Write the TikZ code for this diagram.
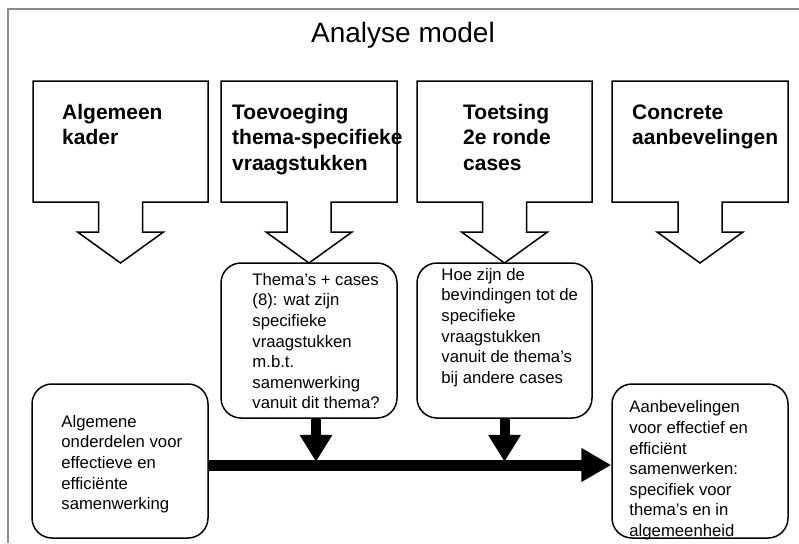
\documentclass[tikz,border=0pt]{standalone}
\usepackage{fontspec}
\setmainfont{Liberation Sans}
\usetikzlibrary{arrows.meta,calc}
\definecolor{framegray}{HTML}{8C8C8C}
\begin{document}
\begin{tikzpicture}[x=1pt,y=-1pt,
  boxline/.style={draw=black,line width=1.5pt,line join=miter},
  roundbox/.style={draw=black,line width=1.5pt,rounded corners=20pt,
    minimum width=176pt,minimum height=155pt,inner sep=0pt},
  headtext/.style={font=\fontsize{21}{25.5}\selectfont\bfseries,
    align=left,anchor=north west,inner sep=0pt},
  bodytext/.style={font=\fontsize{16.7}{20.6}\selectfont,
    align=left,anchor=north west,inner sep=0pt},
  flow/.style={line width=11pt,-{Triangle[length=30pt,width=32pt]}},
  feed/.style={line width=10pt,-{Triangle[length=27pt,width=31pt]}},
]
\useasboundingbox (0,0) rectangle (799,543);

% outer frame
\draw[framegray,line width=2pt] (8,543) -- (8,9.5) -- (799,9.5);

% title
\node[font=\fontsize{28}{32}\selectfont,anchor=base] (title) at (403,42) {Analyse model};

% down-arrow callouts: left, right, centre of the stem
\foreach \L/\R/\c in {33/208/120.5, 221/397/309, 417/592/504.5, 612/788/700}{
  \draw[boxline] (\L,81) -- (\R,81) -- (\R,202) -- (\c+22,202) -- (\c+22,232)
    -- (\c+43,232) -- (\c,263) -- (\c-43,232) -- (\c-22,232) -- (\c-22,202)
    -- (\L,202) -- cycle;
}
\node[headtext] (h1) at (62,101.15) {\strut Algemeen\\kader};
\node[headtext] (h2) at (232,101.15) {\strut Toevoeging\\thema-specifieke\\vraagstukken};
\node[headtext] (h3) at (463,101.15) {\strut Toetsing\\2e ronde\\cases};
\node[headtext] (h4) at (632,101.15) {\strut Concrete\\aanbevelingen};

% rounded boxes
\node[roundbox] (A) at (309,340.5) {};
\node[roundbox,minimum width=175pt] (B) at (504.5,340.5) {};
\node[roundbox,minimum height=154pt] (C) at (120,461) {};
\node[roundbox,minimum height=154pt] (D) at (700,461) {};

\node[bodytext] (tA) at ($(A.north west)+(32,8.5)$)
  {\strut Thema’s + cases\\(8): wat zijn\\specifieke\\vraagstukken\\m.b.t.\\samenwerking\\vanuit dit thema?};
\node[bodytext] (tB) at ($(B.north west)+(25,3.5)$)
  {\strut Hoe zijn de\\bevindingen tot de\\specifieke\\vraagstukken\\vanuit de thema’s\\bij andere cases};
\node[bodytext] (tC) at ($(C.north west)+(30,29.5)$)
  {\strut Algemene\\onderdelen voor\\effectieve en\\efficiënte\\samenwerking};
\node[bodytext] (tD) at ($(D.north west)+(18,15)$)
  {\strut Aanbevelingen\\voor effectief en\\efficiënt\\samenwerken:\\specifiek voor\\thema’s en in\\algemeenheid};

% main flow and feeding arrows
\draw[flow] ($(C.east)+(0,4)$) -- ($(D.west)+(0,4)$);
\draw[feed] ($(A.south)+(7,0)$) -- ($(A.south)+(7,43)$);
\draw[feed] (B.south) -- ($(B.south)+(0,43)$);
\end{tikzpicture}
\end{document}
